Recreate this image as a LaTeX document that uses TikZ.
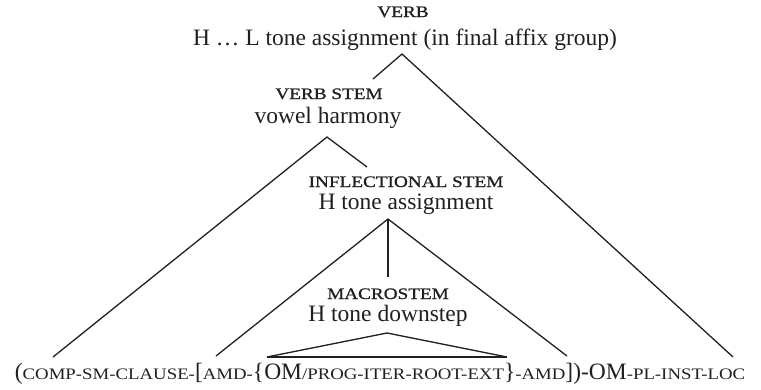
\documentclass[tikz,border=0pt]{standalone}
\usepackage{fontspec}
\setmainfont{Liberation Serif}
\newfontfamily\scfont[FakeStretch=1.175]{Liberation Serif}
\newfontfamily\scfontB[FakeStretch=1.2,FakeBold=1]{Liberation Serif}
\newcommand\mainsz{\fontsize{23.5}{24}\selectfont}
\newcommand\lbl[1]{{\fontsize{16}{17}\scfontB #1}}
\newcommand\smc[1]{{\fontsize{16}{17}\scfont #1}}
\definecolor{ink}{HTML}{231F20}
\begin{document}
\begin{tikzpicture}[x=1pt,y=-1pt,
  txt/.style={anchor=base,inner sep=0pt,text=ink,font=\mainsz},
  branch/.style={draw=ink,line width=1.3pt},
  thick base/.style={draw=ink,line width=2.6pt}]
\useasboundingbox (0,0) rectangle (761,389);
% labels
\node[txt] (verb) at (403,17) {\lbl{VERB}};
\node[txt] (verbrule) at (405,45) {H … L tone assignment (in final affix group)};
\node[txt] (vs) at (329,99) {\lbl{VERB STEM}};
\node[txt] (vsrule) at (328,123) {vowel harmony};
\node[txt] (is) at (406,187) {\lbl{INFLECTIONAL STEM}};
\node[txt] (isrule) at (406,209) {H tone assignment};
\node[txt] (ms) at (388,299) {\lbl{MACROSTEM}};
\node[txt] (msrule) at (388,321) {H tone downstep};
\node[txt] (form) at (380,379) {(\smc{COMP-SM-CLAUSE-}[\smc{AMD-}\{OM\smc{/PROG-ITER-ROOT-EXT}\}\smc{-AMD}])-OM\smc{-PL-INST-LOC}};
% branch points
\coordinate (vtop) at (402,54);
\coordinate (vleft) at (373,79);
\coordinate (vright) at (733,357);
\coordinate (vstop) at (327,137);
\coordinate (vsleft) at (53,357);
\coordinate (vsright) at (367,167);
\coordinate (istop) at (388,219);
\coordinate (isleft) at (216,356);
\coordinate (ismid) at (388,277);
\coordinate (isright) at (567,356);
\coordinate (mstop) at (387,333);
\coordinate (msleft) at (267,357);
\coordinate (msright) at (507,357);
% branches
\draw[branch] (vleft) -- (vtop) -- (vright);
\draw[branch] (vsleft) -- (vstop) -- (vsright);
\draw[branch] (isleft) -- (istop) -- (isright);
\draw[branch] (istop) -- (ismid);
\draw[branch,line join=miter] (msleft) -- (mstop) -- (msright);
\draw[thick base] (msleft) -- (msright);
\end{tikzpicture}
\end{document}
